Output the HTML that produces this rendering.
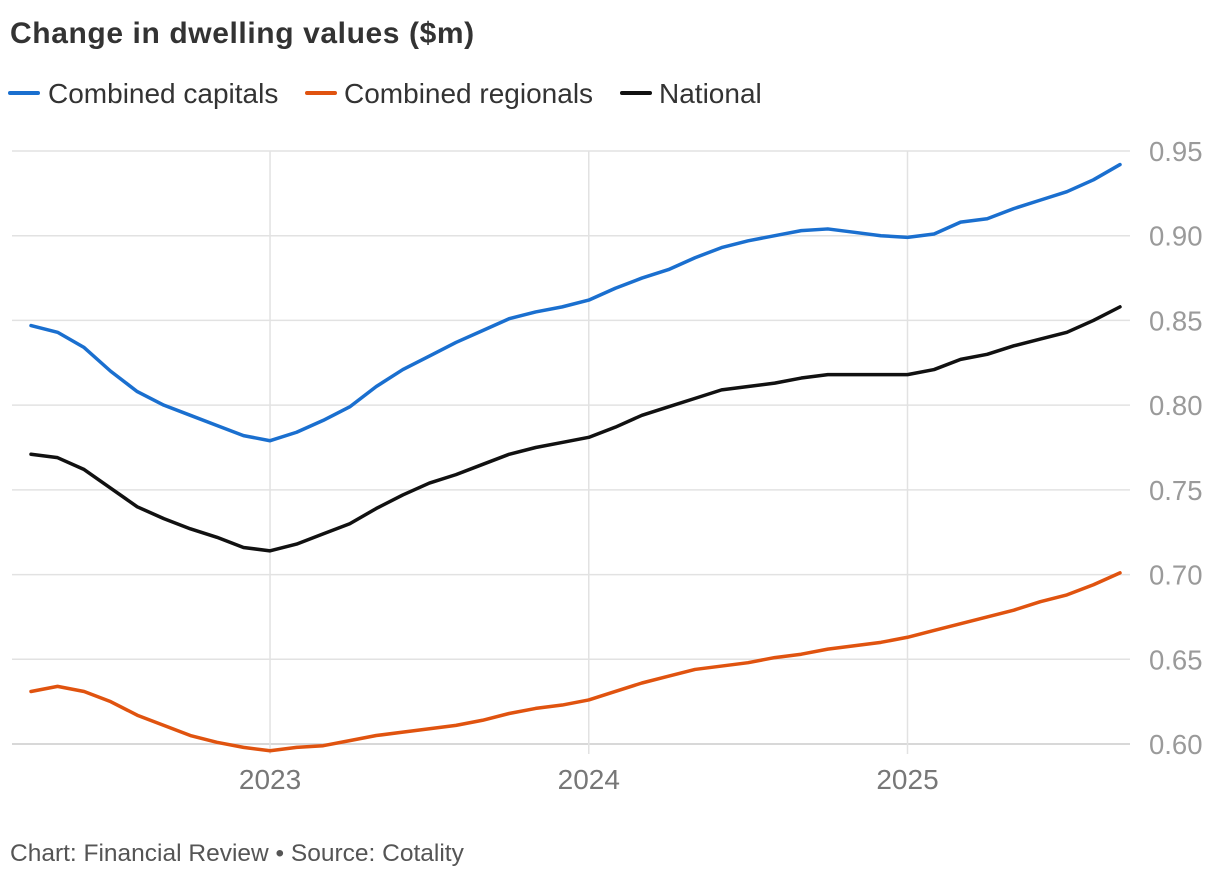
<!DOCTYPE html>
<html><head><meta charset="utf-8"><style>
body{margin:0;background:#fff;width:1220px;height:878px;overflow:hidden;font-family:"Liberation Sans",sans-serif;}
</style></head><body>
<svg id="chart" width="1220" height="878" xmlns="http://www.w3.org/2000/svg">
<text x="10" y="43" font-size="30" font-weight="bold" letter-spacing="0.6" fill="#333">Change in dwelling values ($m)</text>
<g font-size="28" fill="#333">
<g><line x1="10" y1="93" x2="38" y2="93" stroke="#1a6fcf" stroke-width="4" stroke-linecap="round"/><text x="48" y="103">Combined capitals</text></g>
<g><line x1="307" y1="93" x2="335" y2="93" stroke="#e0530f" stroke-width="4" stroke-linecap="round"/><text x="344" y="103">Combined regionals</text></g>
<g><line x1="622" y1="93" x2="650" y2="93" stroke="#111" stroke-width="4" stroke-linecap="round"/><text x="659" y="103">National</text></g>
</g>
<g id="grid"></g>
<g id="series"></g>
<text x="10" y="861" font-size="24.5" fill="#555">Chart: Financial Review • Source: Cotality</text>
</svg>
<script>
const months = 42; // Apr 2022 .. Sep 2025
const yTicks = [0.60,0.65,0.70,0.75,0.80,0.85,0.90,0.95];
const yearLabels = ["2023","2024","2025"];
const yearIndex = [9,21,33];
const capitals = [0.847,0.843,0.834,0.820,0.808,0.800,0.794,0.788,0.782,0.779,0.784,0.791,0.799,0.811,0.821,0.829,0.837,0.844,0.851,0.855,0.858,0.862,0.869,0.875,0.880,0.887,0.893,0.897,0.900,0.903,0.904,0.902,0.900,0.899,0.901,0.908,0.910,0.916,0.921,0.926,0.933,0.942];
const national = [0.771,0.769,0.762,0.751,0.740,0.733,0.727,0.722,0.716,0.714,0.718,0.724,0.730,0.739,0.747,0.754,0.759,0.765,0.771,0.775,0.778,0.781,0.787,0.794,0.799,0.804,0.809,0.811,0.813,0.816,0.818,0.818,0.818,0.818,0.821,0.827,0.830,0.835,0.839,0.843,0.850,0.858];
const regionals = [0.631,0.634,0.631,0.625,0.617,0.611,0.605,0.601,0.598,0.596,0.598,0.599,0.602,0.605,0.607,0.609,0.611,0.614,0.618,0.621,0.623,0.626,0.631,0.636,0.640,0.644,0.646,0.648,0.651,0.653,0.656,0.658,0.660,0.663,0.667,0.671,0.675,0.679,0.684,0.688,0.694,0.701];

const NS="http://www.w3.org/2000/svg";
const x0=31, x1=1120, yTop=151, yBot=744, yMin=0.60, yMax=0.95;
function xs(i){return x0+(x1-x0)*i/(months-1);}
function ys(v){return yBot-(v-yMin)/(yMax-yMin)*(yBot-yTop);}
function mk(tag,attrs,parent){const e=document.createElementNS(NS,tag);for(const k in attrs)e.setAttribute(k,attrs[k]);parent.appendChild(e);return e;}
const grid=document.getElementById('grid');
yTicks.forEach(v=>{
  const l=mk('line',{x1:12,x2:1130,y1:ys(v),y2:ys(v),stroke:v===yMin?'#ccc':'#e2e2e2','stroke-width':1.5},grid);
  
  
  const t=mk('text',{x:1149,y:ys(v)+10,'font-size':27.5,fill:'#9a9a9a'},grid);
  t.textContent=v.toFixed(2);
  
  
});
yearLabels.forEach((lab,k)=>{
  const x=xs(yearIndex[k]);
  const l=mk('line',{x1:x,x2:x,y1:yTop,y2:yBot+10,stroke:'#e2e2e2','stroke-width':1.5},grid);
  
  
  const t=mk('text',{x:x,y:789,'font-size':28,fill:'#777','text-anchor':'middle'},grid);
  t.textContent=lab;
  
  
});
const ser=document.getElementById('series');
[[capitals,'#1a6fcf','line-combined-capitals'],[regionals,'#e0530f','line-combined-regionals'],[national,'#111','line-national']].forEach(([d,c,n])=>{
  const p=mk('polyline',{points:d.map((v,i)=>xs(i)+','+ys(v)).join(' '),fill:'none',stroke:c,'stroke-width':3.5,'stroke-linejoin':'round','stroke-linecap':'round'},ser);
  
  
});
</script>
</body></html>
